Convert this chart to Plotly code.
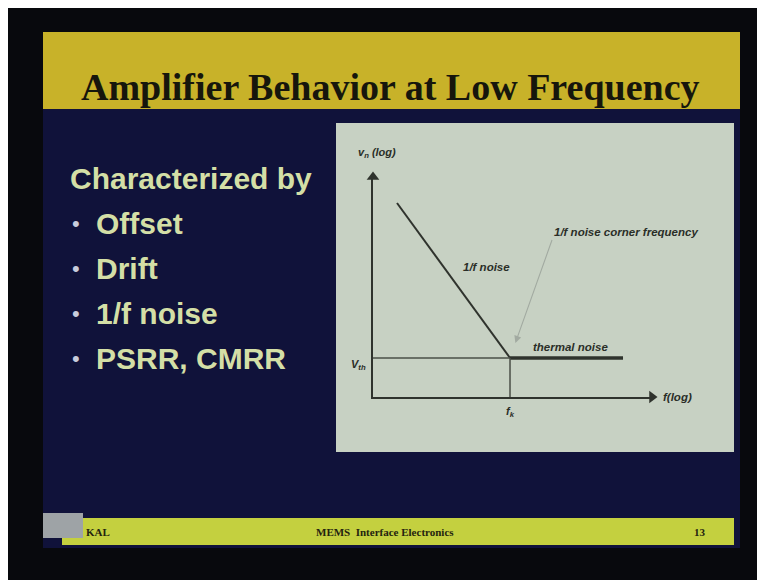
import math
import plotly.graph_objects as go

# ---------------- data ----------------
title_text = "Amplifier Behavior at Low Frequency"
intro_text = "Characterized by"
bullet_items = ["Offset", "Drift", "1/f noise", "PSRR, CMRR"]
footer_left = "KAL"
footer_center = "MEMS  Interface Electronics"
footer_right = "13"

# conceptual noise spectrum (log-log)
f_flicker = [1, 100]          # 1/f region frequencies
vn_flicker = [100, 1]         # noise level along 1/f region
f_thermal = [100, 10000]      # thermal (white) region
vn_thermal = [1, 1]
f_corner = 100                # f_k
v_thermal = 1                 # V_th

x_label = "f(log)"
y_label = "v<sub>n</sub> (log)"
lbl_flicker = "1/f noise"
lbl_thermal = "thermal noise"
lbl_corner = "1/f noise corner frequency"
lbl_vth = "V<sub>th</sub>"
lbl_fk = "f<sub>k</sub>"

# ---------------- layout helpers ----------------
W, H = 765, 580
OFF = 8  # page body margin compensation
def px(x):
    return (x - OFF) / W
def py(y):
    return 1 - (y - OFF) / H

xr = [-0.4248, 4.513]
yr = [-0.5033, 2.3357]

fig = go.Figure()

line_col = "#2f332d"
guide_col = "#4a4f47"
fig.add_trace(go.Scatter(x=f_flicker, y=vn_flicker, mode="lines",
                         line=dict(color=line_col, width=2), hoverinfo="skip"))
fig.add_trace(go.Scatter(x=f_thermal, y=vn_thermal, mode="lines",
                         line=dict(color=line_col, width=3.5), hoverinfo="skip"))
fig.add_trace(go.Scatter(x=[10 ** xr[0], f_corner], y=[v_thermal, v_thermal], mode="lines",
                         line=dict(color=guide_col, width=1.5), hoverinfo="skip"))
fig.add_trace(go.Scatter(x=[f_corner, f_corner], y=[10 ** yr[0], v_thermal], mode="lines",
                         line=dict(color=guide_col, width=1.5), hoverinfo="skip"))
# axis arrowheads at the ends of the axes
fig.add_trace(go.Scatter(x=[10 ** xr[1], 10 ** xr[0]], y=[10 ** yr[0], 10 ** yr[1]],
                         mode="markers", cliponaxis=False, hoverinfo="skip",
                         marker=dict(symbol=["triangle-right", "triangle-up"], size=11,
                                     color=line_col, line=dict(width=0))))

shapes = [
    dict(type="rect", xref="paper", yref="paper", x0=px(43), x1=px(740), y0=py(548), y1=py(32),
         fillcolor="#10123a", line=dict(width=0), layer="below"),
    dict(type="rect", xref="paper", yref="paper", x0=px(43), x1=px(740), y0=py(109), y1=py(32),
         fillcolor="#c8b229", line=dict(width=0), layer="below"),
    dict(type="rect", xref="paper", yref="paper", x0=px(336), x1=px(734), y0=py(452), y1=py(123),
         fillcolor="#c7d1c3", line=dict(width=0), layer="below"),
    dict(type="rect", xref="paper", yref="paper", x0=px(62), x1=px(734), y0=py(545), y1=py(518),
         fillcolor="#c4d03f", line=dict(width=0), layer="below"),
    dict(type="rect", xref="paper", yref="paper", x0=px(43), x1=px(83), y0=py(538), y1=py(513),
         fillcolor="#9ea3a6", line=dict(width=0), layer="below"),
]

ann = []
def text(t, x, y, size, color, family="Liberation Sans", xanchor="left", yanchor="middle"):
    ann.append(dict(text=t, x=px(x), y=py(y), xref="paper", yref="paper", showarrow=False,
                    xanchor=xanchor, yanchor=yanchor,
                    font=dict(size=size, color=color, family=family)))

# title
text("<b>" + title_text + "</b>", 390, 87, 38, "#16160c", family="Liberation Serif", xanchor="center")

# left text
lt_col = "#d4dfa6"
text("<b>" + intro_text + "</b>", 68, 178, 30, lt_col)
for i, item in enumerate(bullet_items):
    yc = 223 + 45 * i
    text("•", 70, yc, 22, "#c8ccdc")
    text("<b>" + item + "</b>", 94, yc, 30, lt_col)

# chart labels
lc = "#2a2e28"
text("<b><i>" + y_label + "</i></b>", 356, 153, 11, lc)
text("<b><i>" + lbl_flicker + "</i></b>", 461, 267, 11.5, lc)
text("<b><i>" + lbl_thermal + "</i></b>", 531, 347, 11.5, lc)
text("<b><i>" + lbl_vth + "</i></b>", 358, 365, 11, lc, xanchor="center")
text("<b><i>" + x_label + "</i></b>", 661, 397, 11.5, lc)
text("<b><i>" + lbl_fk + "</i></b>", 510, 412, 11, lc, xanchor="center")

# corner-frequency label with pointer to the corner point
ann.append(dict(text="<b><i>" + lbl_corner + "</i></b>", xref="x", yref="y",
                x=math.log10(f_corner), y=math.log10(v_thermal),
                showarrow=True, axref="pixel", ayref="pixel", ax=42, ay=-118,
                xanchor="left", yanchor="bottom", standoff=16,
                arrowhead=2, arrowsize=1.3, arrowwidth=1.1, arrowcolor="#a2aaa1",
                font=dict(size=11.5, color=lc, family="Liberation Sans")))

# footer
fc = "#24240f"
text("<b>" + footer_left + "</b>", 84, 532, 11, fc, family="Liberation Serif")
text("<b>" + footer_center + "</b>", 385, 532, 11, fc, family="Liberation Serif", xanchor="center")
text("<b>" + footer_right + "</b>", 700, 532, 11, fc, family="Liberation Serif", xanchor="center")

fig.update_layout(
    width=W, height=H, margin=dict(l=0, r=0, t=0, b=0),
    paper_bgcolor="#08090d", plot_bgcolor="rgba(0,0,0,0)",
    showlegend=False, shapes=shapes, annotations=ann,
    xaxis=dict(type="log", range=xr, domain=[px(373), px(652)], showline=True,
               linecolor=line_col, linewidth=1.5, showgrid=False, zeroline=False,
               showticklabels=False, ticks="", fixedrange=True),
    yaxis=dict(type="log", range=yr, domain=[py(397), py(177)], showline=True,
               linecolor=line_col, linewidth=1.5, showgrid=False, zeroline=False,
               showticklabels=False, ticks="", fixedrange=True),
)

fig.write_html("out.html")
